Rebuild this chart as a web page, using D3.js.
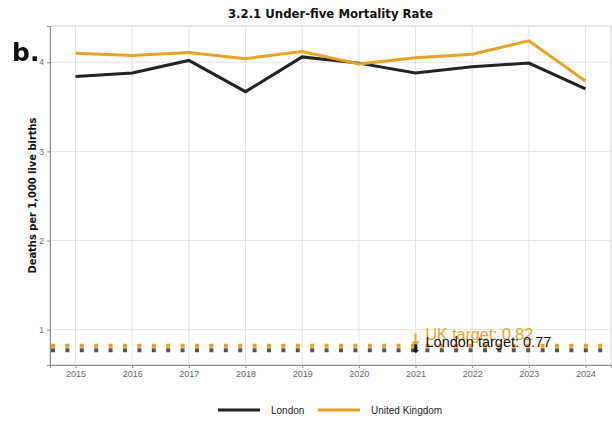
<!DOCTYPE html>
<html><head><meta charset="utf-8">
<script src="https://cdn.jsdelivr.net/npm/d3@7"></script>
<style>body{margin:0;background:#fff}svg{display:block}</style>
</head><body>
<script>
const years = [2015,2016,2017,2018,2019,2020,2021,2022,2023,2024];
const london = [3.84,3.88,4.02,3.67,4.06,3.99,3.88,3.95,3.99,3.70];
const uk = [4.10,4.075,4.11,4.04,4.12,3.98,4.05,4.09,4.24,3.79];
const yTicks = [1,2,3,4];
const targets = [{name:"UK", value:0.82, label:"UK target: 0.82"},{name:"London", value:0.77, label:"London target: 0.77"}];
const seriesNames = ["London","United Kingdom"];
const colors = {"London":"#222222","United Kingdom":"#E9A125"};
const targetColors = {"UK":"#E9A125","London":"#555555"};

const W=612,H=421;
const m={l:50,r:1,t:26,b:56};
const svg=d3.select("body").append("svg").attr("width",W).attr("height",H);
const x=d3.scaleLinear().domain([2014.55,2024.45]).range([m.l,W-m.r]);
const y=d3.scaleLinear().domain([0.6035,4.4065]).range([H-m.b,m.t]);

// panel border
svg.append("rect").attr("x",m.l).attr("y",m.t).attr("width",W-m.r-m.l).attr("height",H-m.b-m.t)
  .attr("fill","none").attr("stroke","#d0d0d0").attr("stroke-width",1);
// grid
svg.append("g").selectAll("line").data(years).join("line")
  .attr("x1",d=>x(d)).attr("x2",d=>x(d)).attr("y1",m.t).attr("y2",H-m.b)
  .attr("stroke","#e3e3e3").attr("stroke-width",1);
svg.append("g").selectAll("line").data(yTicks).join("line")
  .attr("x1",m.l).attr("x2",W-m.r).attr("y1",d=>y(d)).attr("y2",d=>y(d))
  .attr("stroke","#e3e3e3").attr("stroke-width",1);

// axes
const xa=svg.append("g").attr("transform",`translate(0,${H-m.b})`)
  .call(d3.axisBottom(x).tickValues(years).tickFormat(d3.format("d")).tickSize(3).tickPadding(3));
const ya=svg.append("g").attr("transform",`translate(${m.l},0)`)
  .call(d3.axisLeft(y).tickValues(yTicks).tickFormat(d3.format("d")).tickSize(3).tickPadding(3));
[xa,ya].forEach(a=>{
  a.select(".domain").attr("stroke","#8a8a8a");
  a.selectAll(".tick line").attr("stroke","#8a8a8a");
  a.selectAll(".tick text").attr("fill","#666").attr("font-family","Liberation Sans, Arial, sans-serif").attr("font-size",8.5);
});
xa.selectAll(".tick text").attr("font-size",9);

// target lines
svg.append("g").selectAll("line").data(targets).join("line")
  .attr("x1",m.l).attr("x2",W-m.r).attr("y1",d=>y(d.value)).attr("y2",d=>y(d.value))
  .attr("stroke",d=>targetColors[d.name]).attr("stroke-width",4)
  .attr("stroke-dasharray","4,10.4").attr("stroke-dashoffset",-1);

// data lines
const line=d3.line().x(d=>x(d[0])).y(d=>y(d[1]));
const series=[{name:"London",vals:london},{name:"United Kingdom",vals:uk}];
svg.append("g").selectAll("path").data(series).join("path")
  .attr("d",s=>line(years.map((yr,i)=>[yr,s.vals[i]])))
  .attr("fill","none").attr("stroke",s=>colors[s.name]).attr("stroke-width",3)
  .attr("stroke-linejoin","miter");

// target annotations
const ax=x(2021);
svg.append("text").attr("x",ax).attr("y",y(0.82)-0.5).attr("text-anchor","middle")
  .attr("font-family","DejaVu Sans").attr("font-weight","bold").attr("font-size",16)
  .attr("fill",targetColors.UK).text("↓");
svg.append("text").attr("x",ax+10).attr("y",y(0.82)-5.5)
  .attr("font-family","Liberation Sans, Arial, sans-serif").attr("font-size",16)
  .attr("fill",targetColors.UK).text(targets[0].label);
svg.append("text").attr("x",ax).attr("y",y(0.77)+3).attr("text-anchor","middle")
  .attr("font-family","DejaVu Sans").attr("font-weight","bold").attr("font-size",12)
  .attr("fill","#111").text("⬇");
svg.append("text").attr("x",ax+10).attr("y",y(0.77)-3.5)
  .attr("font-family","Liberation Sans, Arial, sans-serif").attr("font-size",14.5)
  .attr("fill","#111").text(targets[1].label);

// title
svg.append("text").attr("x",(m.l+W-m.r)/2).attr("y",18).attr("text-anchor","middle")
  .attr("font-family","DejaVu Sans Condensed, DejaVu Sans").attr("font-weight","bold").attr("font-size",13)
  .attr("fill","#111").text("3.2.1 Under-five Mortality Rate");
// y label
svg.append("text").attr("transform",`translate(36,${(m.t+H-m.b)/2}) rotate(-90)`).attr("text-anchor","middle")
  .attr("font-family","DejaVu Sans Condensed, DejaVu Sans").attr("font-weight","bold").attr("font-size",11)
  .attr("fill","#111").text("Deaths per 1,000 live births");
// panel tag
svg.append("text").attr("x",12).attr("y",61)
  .attr("font-family","DejaVu Sans").attr("font-weight","bold").attr("font-size",25)
  .attr("fill","#111").attr("style","filter:blur(0.6px)").text("b.");

// legend
const lg=svg.append("g").attr("transform","translate(0,410)");
const lpos=[218,318];
seriesNames.forEach((n,i)=>{
  lg.append("line").attr("x1",lpos[i]).attr("x2",lpos[i]+42).attr("y1",0).attr("y2",0)
    .attr("stroke",colors[n]).attr("stroke-width",3);
  lg.append("text").attr("x",lpos[i]+53).attr("y",3.5).attr("font-family","Liberation Sans, Arial, sans-serif")
    .attr("font-size",10).attr("fill","#222").text(n);
});
</script>
</body></html>
